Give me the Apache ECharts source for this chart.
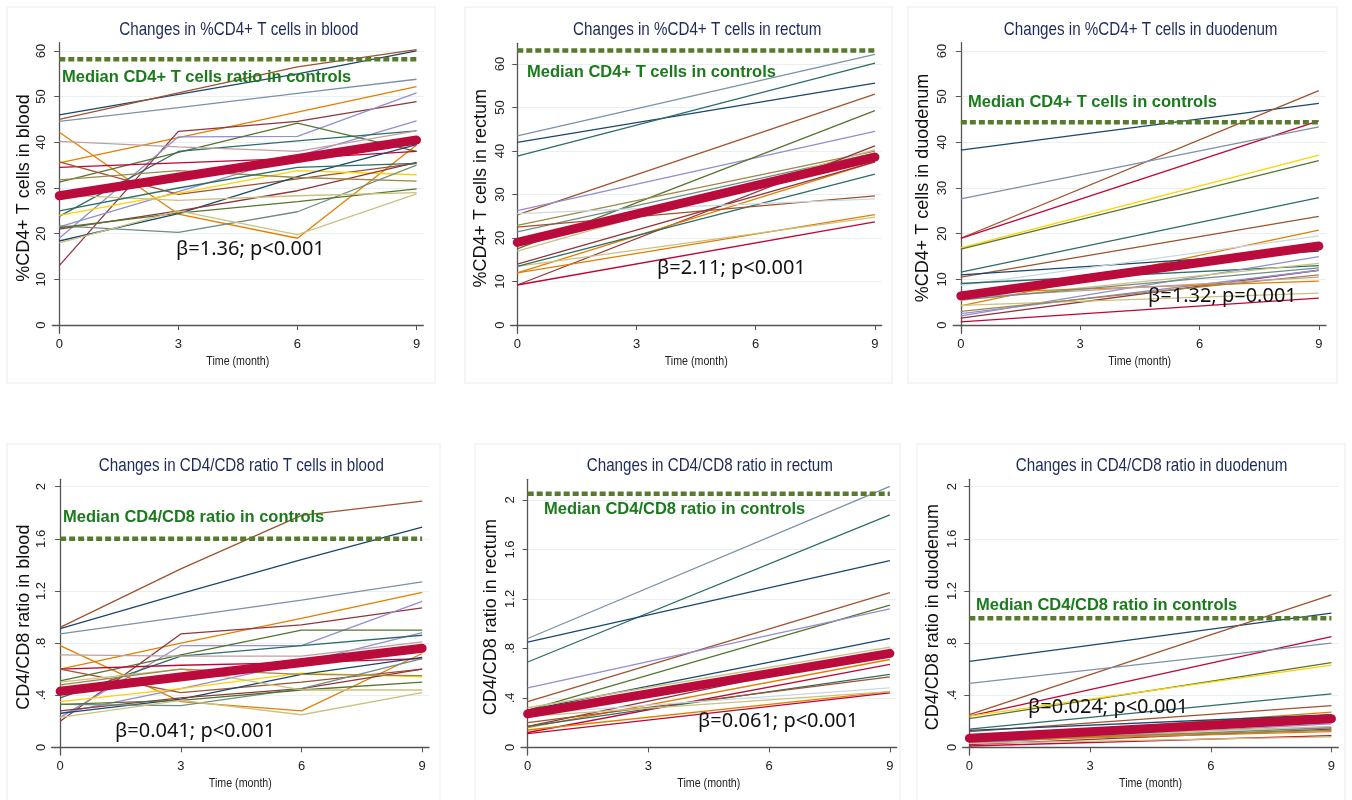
<!DOCTYPE html>
<html>
<head>
<meta charset="utf-8">
<title>CD4 changes</title>
<script src="https://cdn.jsdelivr.net/npm/echarts@6/dist/echarts.min.js"></script>
<style>
  html, body { margin: 0; padding: 0; background: #fff; }
  #main { width: 1352px; height: 800px; }
</style>
</head>
<body>
<div id="main"></div>
<script>
// time points (months)
const months = [0, 3, 6, 9]
const ends = [0, 9]

// %CD4+ in blood, one row per patient at 0/3/6/9
const bloodCd4 = [
  [46, 50.5, 55, 60], [45, 50.8, 56.5, 60.3], [44.6, 47.6, 50.7, 53.8], [35.5, 41, 46.6, 52.2],
  [42.2, 24.3, 19, 39.4], [13, 42.4, 44.6, 48.9], [19, 41.2, 41.3, 50.8], [21.5, 29.2, 37, 44.7],
  [31.3, 37.8, 44.2, 38], [23.8, 38, 40.3, 42.5], [40.2, 39, 38, 42.5], [34.5, 35.5, 36.5, 38],
  [35.7, 28.6, 32, 35.4], [24, 28.8, 33.8, 32.9], [18.4, 24.4, 32.5, 39.5], [21, 25, 29.4, 35.6],
  [21.7, 20.3, 24.8, 35], [21.3, 24.5, 27, 29.8], [18, 25, 19.8, 28.7], [28.5, 27.3, 28.3, 29],
  [31.8, 33.8, 32.3, 31.5], [25, 30, 34.5, 35.4]
]
const bloodCd4Mean = [28.3, 40.5]
const bloodCd4Median = 58.2

// %CD4+ in rectum (baseline, 9 months)
const rectumCd4 = [
  [43.5, 62.2], [42, 55.6], [38.8, 60.2], [25.3, 53.1], [26.3, 44.5], [17.5, 49.3],
  [22.9, 40], [21.4, 39.5], [17, 40.3], [9.2, 41.2], [9.2, 23.7], [12, 37.5],
  [12, 25.4], [13.5, 24.8], [13.5, 34.7], [22.5, 29.7], [14, 37.5], [25.6, 29]
]
const rectumCd4Mean = [19, 38.6]
const rectumCd4Median = 63.1

// %CD4+ in duodenum
const duodenumCd4 = [
  [38.3, 48.5], [19, 51.3], [19, 44.7], [27.6, 43.4], [16.9, 37.2], [16.6, 36],
  [11.6, 27.9], [10.5, 23.8], [4.2, 20.8], [11, 16.2], [8.7, 19.5], [9.1, 13],
  [2, 15], [1.5, 12], [2.5, 12], [5.4, 13.5], [7, 9.6], [4.3, 7],
  [0.7, 5.9], [3, 11], [6, 10.5], [5.5, 12.5]
]
const duodenumCd4Mean = [6.4, 17.3]
const duodenumCd4Median = 44.4

// CD4/CD8 ratio in blood
const bloodRatio = [
  [0.92, 1.37, 1.78, 1.89], [0.91, 1.18, 1.44, 1.69], [0.87, 1.0, 1.13, 1.27], [0.6, 0.8, 0.99, 1.19],
  [0.78, 0.35, 0.28, 0.72], [0.2, 0.87, 0.94, 1.07], [0.23, 0.78, 0.78, 1.12], [0.26, 0.45, 0.65, 0.88],
  [0.51, 0.71, 0.9, 0.9], [0.38, 0.7, 0.78, 0.86], [0.71, 0.7, 0.7, 0.81], [0.6, 0.63, 0.65, 0.68],
  [0.6, 0.42, 0.5, 0.6], [0.35, 0.45, 0.57, 0.54], [0.26, 0.37, 0.56, 0.69], [0.28, 0.38, 0.45, 0.6],
  [0.33, 0.32, 0.45, 0.68], [0.33, 0.36, 0.44, 0.5], [0.23, 0.36, 0.25, 0.42], [0.5, 0.6, 0.44, 0.44],
  [0.48, 0.6, 0.56, 0.55]
]
const bloodRatioMean = [0.43, 0.76]
const bloodRatioMedian = 1.6

// CD4/CD8 ratio in rectum
const rectumRatio = [
  [0.88, 2.11], [0.69, 1.88], [0.85, 1.51], [0.37, 1.25], [0.3, 1.15], [0.48, 1.12],
  [0.3, 0.88], [0.32, 0.81], [0.17, 0.78], [0.16, 0.71], [0.12, 0.67], [0.14, 0.45],
  [0.11, 0.44], [0.17, 0.59], [0.2, 0.57], [0.27, 0.48], [0.25, 0.45]
]
const rectumRatioMean = [0.27, 0.76]
const rectumRatioMedian = 2.05

// CD4/CD8 ratio in duodenum
const duodenumRatio = [
  [0.66, 1.03], [0.25, 1.17], [0.24, 0.85], [0.49, 0.8], [0.22, 0.65], [0.24, 0.63],
  [0.14, 0.41], [0.12, 0.32], [0.07, 0.27], [0.13, 0.25], [0.03, 0.18], [0.06, 0.16],
  [0.04, 0.15], [0.02, 0.14], [0.05, 0.12], [0.01, 0.09], [0.03, 0.08], [0.06, 0.13]
]
const duodenumRatioMean = [0.07, 0.22]
const duodenumRatioMedian = 0.99

// tick labels
const pctTicks = [0, 10, 20, 30, 40, 50, 60]
const ratioTicks = [0, 0.4, 0.8, 1.2, 1.6, 2]

// stata s2color palette
const C = {
  navy: '#1a476f', maroon: '#90353b', green: '#55752f', orange: '#e37e00', teal: '#6e8e84',
  cranberry: '#c10534', lavender: '#938dd2', khaki: '#cac27e', sienna: '#a0522d',
  emidblue: '#7b92a8', emerald: '#2d6d66', brown: '#9c8847', erose: '#bfa19c',
  gold: '#ffd200', bluish: '#c9d9e0'
}
const bloodCd4Colors = ['navy', 'sienna', 'emidblue', 'orange', 'orange', 'maroon', 'lavender', 'lavender',
  'green', 'emerald', 'erose', 'cranberry', 'sienna', 'gold', 'navy', 'maroon', 'teal', 'green', 'khaki',
  'khaki', 'brown', 'emerald']
const rectumCd4Colors = ['emidblue', 'navy', 'emerald', 'sienna', 'lavender', 'green', 'brown', 'teal', 'khaki',
  'maroon', 'cranberry', 'orange', 'orange', 'khaki', 'emerald', 'sienna', 'maroon', 'bluish']
const duodenumCd4Colors = ['navy', 'sienna', 'cranberry', 'emidblue', 'gold', 'green', 'emerald', 'sienna',
  'orange', 'navy', 'bluish', 'emerald', 'lavender', 'maroon', 'lavender', 'khaki', 'orange', 'khaki',
  'cranberry', 'brown', 'erose', 'teal']
const bloodRatioColors = ['sienna', 'navy', 'emidblue', 'orange', 'orange', 'maroon', 'lavender', 'lavender',
  'green', 'emerald', 'erose', 'cranberry', 'sienna', 'gold', 'navy', 'maroon', 'teal', 'green', 'khaki',
  'khaki', 'brown']
const rectumRatioColors = ['emidblue', 'emerald', 'navy', 'sienna', 'green', 'lavender', 'navy', 'khaki',
  'maroon', 'orange', 'cranberry', 'orange', 'cranberry', 'emerald', 'sienna', 'bluish', 'khaki']
const duodenumRatioColors = ['navy', 'sienna', 'cranberry', 'emidblue', 'green', 'gold', 'emerald', 'sienna',
  'orange', 'navy', 'lavender', 'khaki', 'teal', 'maroon', 'orange', 'cranberry', 'khaki', 'brown']

const sans = 'Liberation Sans, Arial, sans-serif'
const ratioFmt = v => (v === 0 ? '0' : v < 1 ? String(v).replace(/^0/, '') : String(v))

// layout of each panel: grid box in px and axis extents
const panels = [
  { title: 'Changes in %CD4+ T cells in blood', yName: '%CD4+ T cells in blood', x: months,
    lines: bloodCd4, colors: bloodCd4Colors, mean: bloodCd4Mean, median: bloodCd4Median,
    medianText: 'Median CD4+ T cells ratio in controls', stat: 'β=1.36; p<0.001',
    grid: [52.3, 42.7, 371, 290.6], xr: [-0.176, 9.17], yr: [-1.8, 61.8], ticks: pctTicks, fmt: String,
    medPos: [62, 77], statPos: [176, 249], frame: [7, 7, 428, 376], nameGap: 19 },
  { title: 'Changes in %CD4+ T cells in rectum', yName: '%CD4+ T cells in rectum', x: ends,
    lines: rectumCd4, colors: rectumCd4Colors, mean: rectumCd4Mean, median: rectumCd4Median,
    medianText: 'Median CD4+ T cells in controls', stat: 'β=2.11; p<0.001',
    grid: [510.7, 43.3, 371, 290], xr: [-0.166, 9.17], yr: [-1.9, 64.76], ticks: pctTicks, fmt: String,
    medPos: [527, 72], statPos: [657, 268], frame: [465, 7, 427, 376], nameGap: 21 },
  { title: 'Changes in %CD4+ T cells in duodenum', yName: '%CD4+ T cells in duodenum', x: ends,
    lines: duodenumCd4, colors: duodenumCd4Colors, mean: duodenumCd4Mean, median: duodenumCd4Median,
    medianText: 'Median CD4+ T cells in controls', stat: 'β=1.32; p=0.001',
    grid: [953.3, 42.7, 372.7, 290.6], xr: [-0.19, 9.18], yr: [-1.8, 61.8], ticks: pctTicks, fmt: String,
    medPos: [968, 102], statPos: [1148, 296], frame: [908, 7, 429, 376], nameGap: 21 },
  { title: 'Changes in CD4/CD8 ratio T cells in blood', yName: 'CD4/CD8 ratio in blood', x: months,
    lines: bloodRatio, colors: bloodRatioColors, mean: bloodRatioMean, median: bloodRatioMedian,
    medianText: 'Median CD4/CD8 ratio in controls', stat: 'β=0.041; p<0.001',
    grid: [51.7, 479.3, 377.3, 275.7], xr: [-0.21, 9.17], yr: [-0.059, 2.057], ticks: ratioTicks, fmt: ratioFmt,
    medPos: [63, 517], statPos: [115, 731], frame: [7, 444, 433, 370], nameGap: 19 },
  { title: 'Changes in CD4/CD8 ratio in rectum', yName: 'CD4/CD8 ratio in rectum', x: ends,
    lines: rectumRatio, colors: rectumRatioColors, mean: rectumRatioMean, median: rectumRatioMedian,
    medianText: 'Median CD4/CD8 ratio in controls', stat: 'β=0.061; p<0.001',
    grid: [521, 479.3, 375.7, 275.7], xr: [-0.166, 9.17], yr: [-0.062, 2.167], ticks: ratioTicks, fmt: ratioFmt,
    medPos: [544, 509], statPos: [698, 721], frame: [475, 444, 425, 370], nameGap: 21 },
  { title: 'Changes in CD4/CD8 ratio in duodenum', yName: 'CD4/CD8 ratio in duodenum', x: ends,
    lines: duodenumRatio, colors: duodenumRatioColors, mean: duodenumRatioMean, median: duodenumRatioMedian,
    medianText: 'Median CD4/CD8 ratio in controls', stat: 'β=0.024; p<0.001',
    grid: [962.7, 479.3, 375.6, 275.7], xr: [-0.165, 9.17], yr: [-0.059, 2.057], ticks: ratioTicks, fmt: ratioFmt,
    medPos: [976, 605], statPos: [1028, 707], frame: [917, 444, 428, 370], nameGap: 21 }
]

const grid = [], xAxis = [], yAxis = [], series = [], graphic = []
const axisLine = { show: true, lineStyle: { color: '#555', width: 1.3 } }

panels.forEach((p, i) => {
  const [left, top, width, height] = p.grid
  grid.push({ left, top, width, height, containLabel: false })
  xAxis.push({
    type: 'value', gridIndex: i, min: p.xr[0], max: p.xr[1],
    axisLine, splitLine: { show: false },
    axisTick: { show: true, length: 5, lineStyle: { color: '#555' }, customValues: months },
    axisLabel: { fontFamily: sans, fontSize: 13, color: '#222', margin: 5, customValues: months }
  })
  yAxis.push({
    type: 'value', gridIndex: i, min: p.yr[0], max: p.yr[1],
    name: p.yName, nameLocation: 'middle', nameGap: p.nameGap,
    nameTextStyle: { fontFamily: sans, fontSize: 18, color: '#111' },
    axisLine,
    axisTick: { show: true, length: 5, lineStyle: { color: '#555' }, customValues: p.ticks },
    axisLabel: { fontFamily: sans, fontSize: 13, color: '#222', rotate: 90, margin: 4,
      customValues: p.ticks, formatter: p.fmt },
    splitLine: { show: true, lineStyle: { color: '#e8f0f2', width: 1 } }
  })
  // individual patients
  p.lines.forEach((vals, j) => {
    series.push({
      type: 'line', xAxisIndex: i, yAxisIndex: i, symbol: 'none', silent: true,
      data: p.x.map((m, k) => [m, vals[k]]),
      lineStyle: { width: 1.3, color: C[p.colors[j]] }
    })
  })
  // fitted mean
  series.push({
    type: 'line', xAxisIndex: i, yAxisIndex: i, symbol: 'none', silent: true,
    data: ends.map((m, k) => [m, p.mean[k]]),
    lineStyle: { width: 9, color: '#bb0a3c', cap: 'round' }
  })
  // control median
  series.push({
    type: 'line', xAxisIndex: i, yAxisIndex: i, symbol: 'none', silent: true,
    data: ends.map(m => [m, p.median]),
    lineStyle: { width: 4.5, color: '#587a2c', type: [6, 3] }
  })

  // panel frame, condensed title and x-axis name, annotations
  graphic.push({
    type: 'rect', z: -10, silent: true,
    shape: { x: p.frame[0], y: p.frame[1], width: p.frame[2], height: p.frame[3] },
    style: { fill: null, stroke: '#eef3f4', lineWidth: 1.5 }
  })
  graphic.push({
    type: 'text', x: left + width / 2 + 1, y: top - 13, scaleX: 0.82, silent: true,
    style: { text: p.title, font: '18.5px ' + sans, fill: '#1c2a5c', align: 'center', verticalAlign: 'middle' }
  })
  graphic.push({
    type: 'text', x: left + width / 2, y: top + height + 28, scaleX: 0.82, silent: true,
    style: { text: 'Time (month)', font: '13px ' + sans, fill: '#222', align: 'center', verticalAlign: 'middle' }
  })
  graphic.push({
    type: 'text', x: p.medPos[0], y: p.medPos[1], silent: true, z: 50,
    style: { text: p.medianText, font: 'bold 16.5px ' + sans, fill: '#1b7a1b',
      align: 'left', verticalAlign: 'middle' }
  })
  graphic.push({
    type: 'text', x: p.statPos[0], y: p.statPos[1], silent: true, z: 50,
    style: { text: p.stat, font: '20px "Noto Sans", sans-serif', fill: '#111', align: 'left', verticalAlign: 'middle' }
  })
})

const myChart = echarts.init(document.getElementById('main'))
myChart.setOption({
  animation: false,
  backgroundColor: '#fff',
  grid, xAxis, yAxis, series, graphic
})
</script>
</body>
</html>
